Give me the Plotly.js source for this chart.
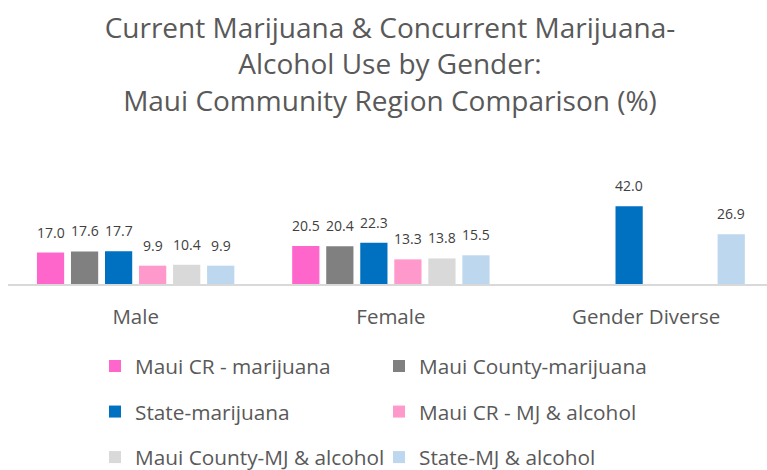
<!DOCTYPE html>
<html>
<head>
<meta charset="utf-8">
<script src="https://cdn.plot.ly/plotly-3.0.1.min.js"></script>
<style>html,body{margin:0;padding:0;background:#fff;} #chart{width:767px;height:470px;}</style>
</head>
<body>
<div id="chart"></div>
<script>
// ---- data ----
const categories = ['Male', 'Female', 'Gender Diverse'];
const seriesNames = [
  'Maui CR - marijuana',
  'Maui County-marijuana',
  'State-marijuana',
  'Maui CR - MJ & alcohol',
  'Maui County-MJ & alcohol',
  'State-MJ & alcohol'
];
const mauiCrMarijuana = [17.0, 20.5, null];
const mauiCountyMarijuana = [17.6, 20.4, null];
const stateMarijuana = [17.7, 22.3, 42.0];
const mauiCrMjAlcohol = [9.9, 13.3, null];
const mauiCountyMjAlcohol = [10.4, 13.8, null];
const stateMjAlcohol = [9.9, 15.5, 26.9];
const titleText = 'Current Marijuana &amp; Concurrent Marijuana-<br>Alcohol Use by Gender:<br>Maui Community Region Comparison (%)';

// ---- styles ----
const seriesValues = [mauiCrMarijuana, mauiCountyMarijuana, stateMarijuana,
                      mauiCrMjAlcohol, mauiCountyMjAlcohol, stateMjAlcohol];
const colors = ['#FF66CC', '#808080', '#0070C0', '#FF99CC', '#D9D9D9', '#BDD7EE'];
const FONT = '"Open Sans", Lato, sans-serif';
const BARGAP = 0.2;
const catIdx = categories.map((c, i) => i);
const nSeries = seriesValues.length;

const traces = seriesValues.map((vals, i) => ({
  type: 'bar',
  name: seriesNames[i],
  x: catIdx,
  y: vals,
  marker: { color: colors[i], line: { width: 0 } },
  legend: (i % 2 === 0) ? 'legend' : 'legend2',
  legendgroup: 'g' + i,
  hoverinfo: 'skip'
}));

const slot = (1 - BARGAP) / nSeries;
const annotations = [];
seriesValues.forEach((vals, i) => {
  vals.forEach((v, j) => {
    if (v === null) return;
    annotations.push({
      x: j + (i - (nSeries - 1) / 2) * slot,
      y: v,
      xref: 'x', yref: 'y',
      text: v.toFixed(1),
      showarrow: false,
      xanchor: 'center', yanchor: 'bottom',
      yshift: 9,
      font: { family: FONT, size: 14, color: '#404040' }
    });
  });
});

const legendCommon = {
  orientation: 'v',
  xref: 'container', yref: 'container',
  xanchor: 'left', yanchor: 'top',
  font: { family: FONT, size: 20.8, color: '#595959' },
  bgcolor: 'rgba(0,0,0,0)',
  borderwidth: 0,
  tracegroupgap: 15.5,
  traceorder: 'grouped'
};

const layout = {
  width: 767, height: 470,
  margin: { l: 8, r: 0, t: 140, b: 186, pad: 0, autoexpand: false },
  paper_bgcolor: '#ffffff',
  plot_bgcolor: '#ffffff',
  barmode: 'group',
  bargap: BARGAP,
  bargroupgap: 0.2,
  title: {
    text: titleText,
    x: 390 / 767, xref: 'container', xanchor: 'center',
    y: 1 - 38 / 470, yref: 'container', yanchor: 'top',
    font: { family: FONT, size: 28, color: '#595959' }
  },
  xaxis: {
    range: [-0.5, 2.4735],
    tickvals: catIdx,
    ticktext: categories,
    tickangle: 0,
    showgrid: false,
    zeroline: false,
    showline: true,
    linecolor: '#D9D9D9',
    linewidth: 1.5,
    ticks: 'outside',
    ticklen: 14,
    tickcolor: 'rgba(0,0,0,0)',
    tickfont: { family: FONT, size: 20.5, color: '#595959' },
    fixedrange: true
  },
  yaxis: {
    range: [0, 77.8],
    visible: false,
    showgrid: false,
    zeroline: false,
    fixedrange: true
  },
  showlegend: true,
  legend: Object.assign({}, legendCommon, { x: 95 / 767, y: 1 - 346 / 470 }),
  legend2: Object.assign({}, legendCommon, { x: 379 / 767, y: 1 - 346 / 470 }),
  annotations: annotations
};

Plotly.newPlot('chart', traces, layout, { displayModeBar: false, staticPlot: true });
</script>
</body>
</html>
